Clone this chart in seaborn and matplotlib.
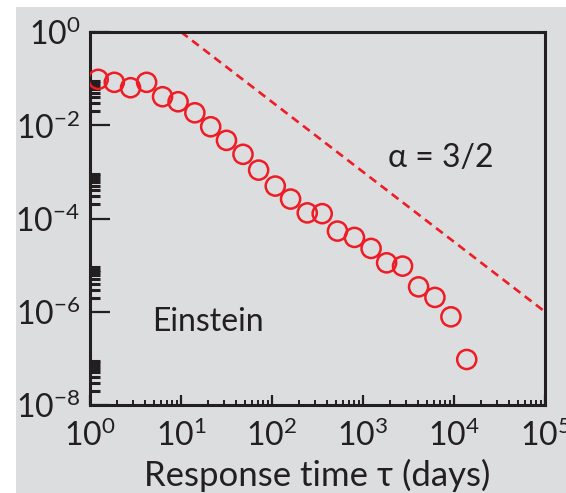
import numpy as np
import pandas as pd
import seaborn as sns
import matplotlib.pyplot as plt
from matplotlib.patches import Rectangle
from matplotlib.ticker import FixedLocator, LogFormatterSciNotation

# response times (days) and probability
tau = [1.23, 1.85, 2.79, 4.19, 6.27, 9.29, 14.2, 21.2, 31.6, 48.0, 71.3,
       108.6, 160, 244, 356, 524, 805, 1227, 1817, 2720, 4080, 6170, 9250, 13800]
prob = [0.0966, 0.0833, 0.0638, 0.0833, 0.0409, 0.0319, 0.0185, 0.00928,
        0.00474, 0.00238, 0.00109, 4.96e-4, 2.61e-4, 1.32e-4, 1.27e-4,
        5.37e-5, 3.93e-5, 2.28e-5, 1.12e-5, 9.52e-6, 3.42e-6, 2.03e-6,
        7.78e-7, 9.47e-8]
# alpha = 3/2 guide line end points
guide_x = [10, 1e5]
guide_y = [1, 1e-6]

x_major = [1e0, 1e1, 1e2, 1e3, 1e4, 1e5]
y_major = [1e0, 1e-2, 1e-4, 1e-6, 1e-8]

sns.set_style('ticks')
plt.rcParams['font.family'] = ['Lato', 'DejaVu Sans']
plt.rcParams['mathtext.default'] = 'regular'

red = '#EE1C25'
ink = '#231F20'
grey = '#DCDDDF'

df = pd.DataFrame({'tau': tau, 'p': prob})

fig = plt.figure(figsize=(5.66, 4.93), dpi=100)
fig.patch.set_facecolor('white')
fig.add_artist(Rectangle((16 / 566, 0), 1, 1 - 7 / 493, transform=fig.transFigure,
                         facecolor=grey, edgecolor='none', zorder=0))
ax = fig.add_axes([90 / 566, 1 - 405 / 493, 455 / 566, 373 / 493])
ax.set_facecolor(grey)

sns.lineplot(x=guide_x, y=guide_y, ax=ax, color=red, lw=1.9, legend=False)
ax.lines[-1].set_linestyle((0, (3.2, 2.1)))
sns.scatterplot(data=df, x='tau', y='p', ax=ax, s=190, marker='o',
                facecolors='none', edgecolor=red, linewidth=1.8, zorder=3)

ax.set_xscale('log')
ax.set_yscale('log')
ax.set_xlim(1, 1e5)
ax.set_ylim(1e-8, 1)

ax.xaxis.set_major_locator(FixedLocator(x_major))
ax.xaxis.set_minor_locator(FixedLocator(
    [k * 10.0 ** e for e in range(0, 5) for k in range(2, 10)]))
ax.yaxis.set_major_locator(FixedLocator(y_major))
ax.yaxis.set_minor_locator(FixedLocator(
    [k * 10.0 ** e for e in (-2, -4, -6, -8) for k in range(2, 10)]))
ax.xaxis.set_major_formatter(LogFormatterSciNotation())
ax.yaxis.set_major_formatter(LogFormatterSciNotation())

ax.tick_params(axis='both', which='both', direction='in', color=ink,
               labelcolor=ink, labelsize=23, top=False, right=False)
ax.tick_params(axis='x', which='major', length=7.2, width=1.6, pad=10)
ax.tick_params(axis='x', which='minor', length=3.6, width=1.4)
ax.tick_params(axis='y', which='major', length=14.4, width=1.6, pad=7)
ax.tick_params(axis='y', which='minor', length=7.2, width=2.2)

for sp in ax.spines.values():
    sp.set_color(ink)
    sp.set_linewidth(2.2)

ax.set_xlabel('Response time τ (days)', fontsize=25, color=ink, labelpad=5)
ax.set_ylabel('')

ax.text(0.771, 0.662, 'α = 3/2', transform=ax.transAxes, fontsize=23,
        color=ink, ha='center', va='center')
ax.text(0.259, 0.2225, 'Einstein', transform=ax.transAxes, fontsize=23,
        color=ink, ha='center', va='center')

fig.savefig('out.png', dpi=100)
